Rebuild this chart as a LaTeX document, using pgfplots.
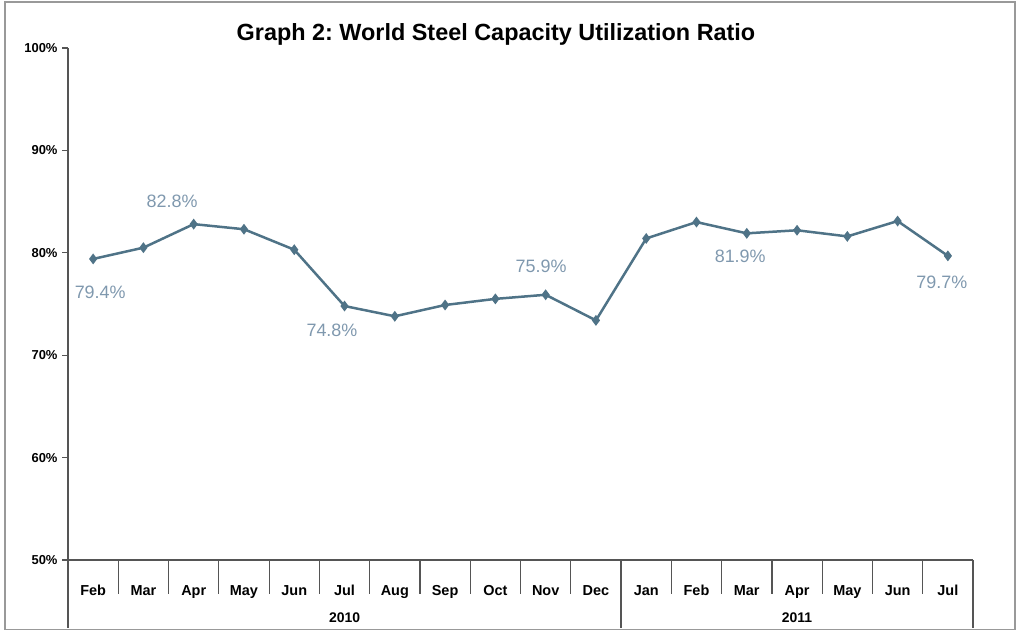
\documentclass[border=0pt]{standalone}
\usepackage{pgfplots}
\pgfplotsset{compat=1.18}
\usepackage{fontspec}
\setmainfont{Liberation Sans}
\frenchspacing
\definecolor{linec}{HTML}{4F7387}
\definecolor{labc}{HTML}{7F98AE}
\definecolor{axc}{HTML}{555555}
\begin{document}
\begin{tikzpicture}[x=1bp,y=1bp]
\path[use as bounding box] (0,0) rectangle (1018,632);
\draw[color=gray!80, line width=1.5bp] (5,2.5) rectangle (1015,630);
\node[font=\bfseries\fontsize{23.5}{26}\selectfont] at (496,598) {Graph 2: World Steel Capacity Utilization Ratio};
\begin{axis}[at={(68bp,72bp)}, anchor=south west, scale only axis,
  width=905bp, height=512bp,
  xmin=0, xmax=18, ymin=50, ymax=100,
  axis x line*=bottom, axis y line*=left,
  axis line style={axc, line width=1.2bp},
  clip=false,
  /pgf/number format/assume math mode=true,
  ytick={50,60,70,80,90,100},
  yticklabel={\pgfmathprintnumber{\tick}\%},
  yticklabel style={font=\bfseries\fontsize{13}{15}\selectfont, xshift=-1bp},
  ytick style={axc, line width=1.2bp},
  tick align=outside, major tick length=6bp,
  xtick={0.5,1.5,2.5,3.5,4.5,5.5,6.5,7.5,8.5,9.5,10.5,11.5,12.5,13.5,14.5,15.5,16.5,17.5},
  xticklabels={Feb,Mar,Apr,May,Jun,Jul,Aug,Sep,Oct,Nov,Dec,Jan,Feb,Mar,Apr,May,Jun,Jul},
  xtick style={draw=none},
  xticklabel style={font=\bfseries\fontsize{14.5}{16}\selectfont, anchor=base, yshift=-30bp},
]
\addplot[linec, line width=2.5bp, mark=diamond*, mark size=3.4bp, mark options={fill=linec, solid}] coordinates {
(0.5,79.4)(1.5,80.5)(2.5,82.8)(3.5,82.3)(4.5,80.3)(5.5,74.8)(6.5,73.8)(7.5,74.9)(8.5,75.5)(9.5,75.9)(10.5,73.4)(11.5,81.4)(12.5,83.0)(13.5,81.9)(14.5,82.2)(15.5,81.6)(16.5,83.1)(17.5,79.7)};
\pgfplotsinvokeforeach{1,2,3,4,5,6,7,8,9,10,12,13,14,15,16,17}{
  \draw[axc, line width=1.2bp] (axis cs:#1,50) -- (axis cs:#1,46.68);
}
\pgfplotsinvokeforeach{0,11,18}{
  \draw[axc, line width=1.2bp] (axis cs:#1,50) -- (axis cs:#1,43.36);
}
\node[font=\bfseries\fontsize{14}{16}\selectfont] at (axis cs:5.5,44.34) {2010};
\node[font=\bfseries\fontsize{14}{16}\selectfont] at (axis cs:14.5,44.34) {2011};
\begin{scope}[every node/.style={text=labc, font=\fontsize{18}{20}\selectfont}]
\node at (axis cs:0.64,76.1) {79.4\%};
\node at (axis cs:2.07,85.06) {82.8\%};
\node at (axis cs:5.25,72.46) {74.8\%};
\node at (axis cs:9.41,78.7) {75.9\%};
\node at (axis cs:13.37,79.7) {81.9\%};
\node at (axis cs:17.38,77.15) {79.7\%};
\end{scope}
\end{axis}
\end{tikzpicture}
\end{document}
